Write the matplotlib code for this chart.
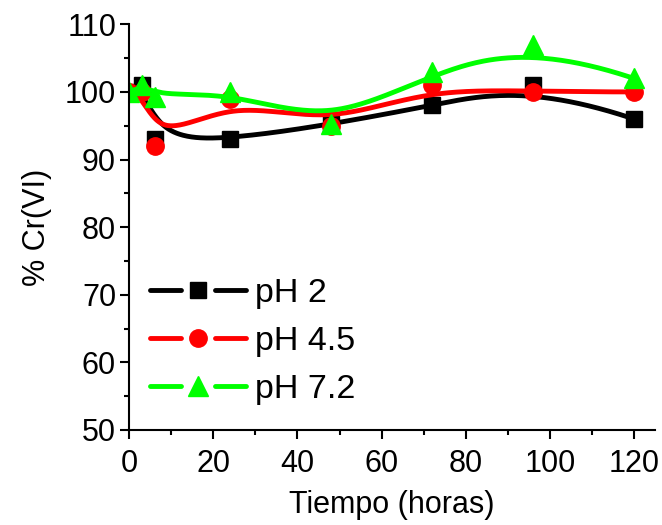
import numpy as np
import matplotlib
matplotlib.use("Agg")
import matplotlib.pyplot as plt
from matplotlib.lines import Line2D

# data
tiempo = [0, 3, 6, 24, 48, 72, 96, 120]
ph2 = [100, 101, 93, 93, 95.2, 98, 101, 96]
ph45 = [100, 100, 92, 99, 95, 101, 100, 100]
ph72 = [100, 101, 99.3, 100, 95.2, 103, 107, 102]
labels = ["pH 2", "pH 4.5", "pH 7.2"]
colors = ["black", "#ff0000", "#00ff00"]
markers = ["s", "o", "^"]
msizes = [12, 12.5, 15]

plt.rcParams['font.family'] = ['Liberation Sans', 'DejaVu Sans']
plt.rcParams['lines.scale_dashes'] = False


def bspline(px, py, n=400):
    # clamped cubic B-spline using the data points as control points
    px = np.asarray(px, float)
    py = np.asarray(py, float)
    k = 3
    m = len(px)
    knots = np.concatenate([np.zeros(k), np.arange(m - k + 1), np.full(k, m - k)]).astype(float)
    t = np.linspace(0, m - k, n)
    t[-1] -= 1e-9
    # Cox-de Boor
    N = np.zeros((n, len(knots) - 1))
    for i in range(len(knots) - 1):
        N[:, i] = (t >= knots[i]) & (t < knots[i + 1])
    for d in range(1, k + 1):
        Nn = np.zeros((n, len(knots) - 1 - d))
        for i in range(len(knots) - 1 - d):
            a = knots[i + d] - knots[i]
            b = knots[i + d + 1] - knots[i + 1]
            term = 0
            if a > 0:
                term = term + (t - knots[i]) / a * N[:, i]
            if b > 0:
                term = term + (knots[i + d + 1] - t) / b * N[:, i + 1]
            Nn[:, i] = term
        N = Nn
    return N @ px, N @ py


fig = plt.figure(figsize=(6.62, 5.25), dpi=100)
ax = fig.add_axes([0.1953, 0.181, 0.794, 0.7727])

handles = []
for ys, c, mk, ms, lab in zip([ph2, ph45, ph72], colors, markers, msizes, labels):
    sx, sy = bspline(tiempo, ys)
    ax.plot(sx, sy, color=c, lw=3.5, solid_capstyle='round')
    ax.plot(tiempo, ys, ls='none', marker=mk, ms=ms, color=c, mec=c)
    handles.append(Line2D([], [], color=c, lw=3.5, marker=mk, ms=ms, mec=c,
                          dashes=(22.3, 24.5), dash_capstyle='round', label=lab))

ax.set_xlim(0, 125)
ax.set_ylim(50, 110)
ax.set_xticks(np.arange(0, 121, 20))
ax.set_xticks(np.arange(10, 121, 20), minor=True)
ax.set_yticks(np.arange(50, 111, 10))
ax.set_yticks(np.arange(55, 110, 10), minor=True)

for s in ['top', 'right']:
    ax.spines[s].set_visible(False)
for s in ['left', 'bottom']:
    ax.spines[s].set_linewidth(1.5)
ax.tick_params(which='major', length=6.5, width=1.5, labelsize=22)
ax.tick_params(axis='x', pad=7)
ax.tick_params(axis='y', pad=3)
ax.tick_params(which='minor', length=3.5, width=1.5)

ax.set_xlabel("Tiempo (horas)", fontsize=22, labelpad=8)
ax.set_ylabel("% Cr(VI)", fontsize=22, labelpad=9)

ax.legend(handles=handles, loc='upper left', bbox_to_anchor=(0.0394, 0.374),
          frameon=False, fontsize=24.5, handlelength=2.82, handletextpad=0.27,
          labelspacing=0.5, numpoints=1, borderpad=0, borderaxespad=0)

fig.savefig("out.png", dpi=100)
